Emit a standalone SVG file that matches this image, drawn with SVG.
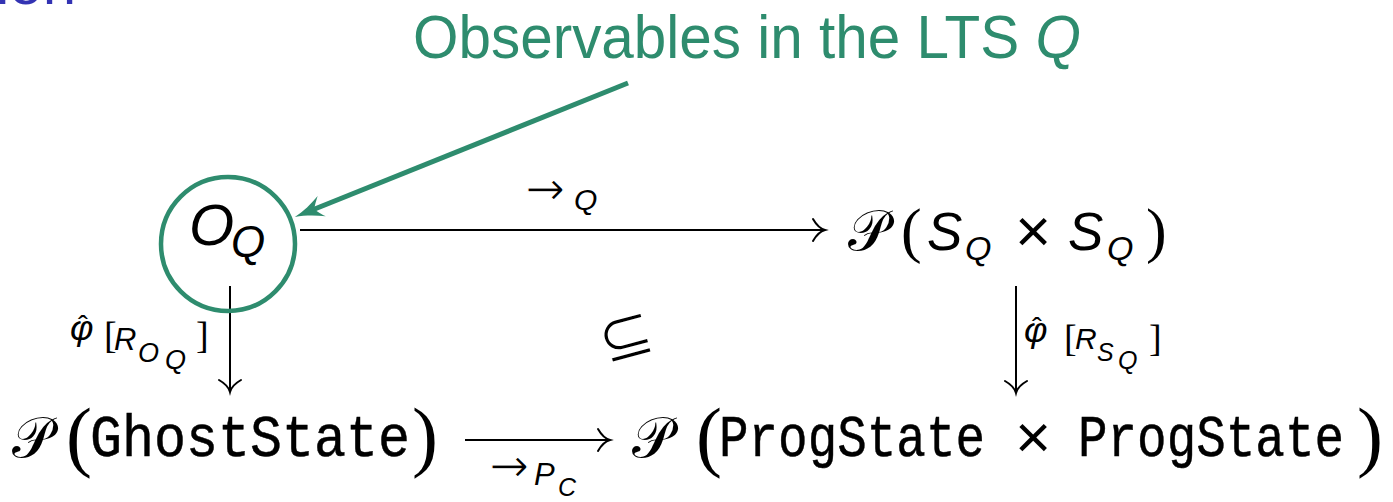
<svg xmlns="http://www.w3.org/2000/svg" width="1393" height="502" viewBox="0 0 1393 502">
<style>
.bg{fill:#ffffff}
.math{font-family:"Liberation Sans","DejaVu Sans",sans-serif;fill:#000}
.it{font-style:italic}
.arr{font-family:"DejaVu Sans",sans-serif;font-style:normal;stroke:#fff;stroke-width:1.3}
.par{font-family:"Liberation Serif","DejaVu Serif",serif;font-style:normal}
.cal{font-family:"DejaVu Serif","DejaVu Sans","Noto Sans",serif;font-style:normal}
.tt{font-family:"Liberation Mono","DejaVu Sans Mono",monospace;fill:#000;stroke:#000;stroke-width:0.5}
.green{fill:#2E8C6E;font-family:"Liberation Sans","DejaVu Sans",sans-serif}
.blue{fill:#3333B3;font-family:"Liberation Sans","DejaVu Sans",sans-serif}
.conn{stroke:#000;stroke-width:2;fill:none}
</style>
<defs>
<marker id="to" markerUnits="userSpaceOnUse" markerWidth="20" markerHeight="26" viewBox="-16 -13 20 26" refX="0" refY="0" orient="auto" overflow="visible">
<path d="M -12 -11 C -8 -4 -3 -0.8 0 0 C -3 0.8 -8 4 -12 11" fill="none" stroke="#000" stroke-width="2" stroke-linecap="round"/>
</marker>
<marker id="stealth" markerUnits="userSpaceOnUse" markerWidth="40" markerHeight="30" viewBox="-20 -15 40 30" refX="0" refY="0" orient="auto" overflow="visible">
<path d="M 12 0 C 2 -2 -8 -6 -17 -11 C -12 -5 -10 -2 -9 0 C -10 2 -12 5 -17 11 C -8 6 2 2 12 0 Z" fill="#2E8C6E"/>
</marker>
</defs>
<rect class="bg" x="0" y="0" width="1393" height="502"/>
<text class="blue" x="-4" y="4" font-size="60">ion</text>
<g id="callout">
<text class="green" x="413" y="58" font-size="62" textLength="668" lengthAdjust="spacingAndGlyphs">Observables in the LTS <tspan font-style="italic">Q</tspan></text>
</g>
<g id="connectors">
<line x1="628" y1="83" x2="306" y2="212.5" stroke="#2E8C6E" stroke-width="5" marker-end="url(#stealth)"/>
<line class="conn" x1="300" y1="230" x2="825" y2="230" marker-end="url(#to)"/>
<line class="conn" x1="230" y1="286" x2="230" y2="392" marker-end="url(#to)"/>
<line class="conn" x1="1016" y1="286" x2="1016" y2="393" marker-end="url(#to)"/>
<line class="conn" x1="465" y1="440" x2="610" y2="440" marker-end="url(#to)"/>
<text class="math"><tspan class="arr" x="525" y="205" font-size="48">→</tspan><tspan class="it" x="574" y="210" font-size="30">Q</tspan></text>
<text class="math"><tspan class="arr" x="489" y="482" font-size="48">→</tspan><tspan class="it" x="534" y="485" font-size="31">P</tspan><tspan class="it" x="558" y="496" font-size="25">C</tspan></text>
<text class="math"><tspan class="it" x="70" y="340" font-size="36">φ</tspan><tspan class="par" x="104" y="348" font-size="38">[</tspan><tspan class="it" x="114" y="350" font-size="31">R</tspan><tspan class="it" x="138" y="362" font-size="27">O</tspan><tspan class="it" x="165" y="369" font-size="27">Q</tspan><tspan class="par" x="196" y="348" font-size="38">]</tspan></text>
<text class="math" x="78" y="336" font-size="30">ˆ</text>
<text class="math"><tspan class="it" x="1024" y="342" font-size="36">φ</tspan><tspan class="par" x="1064" y="351" font-size="38">[</tspan><tspan class="it" x="1075" y="349" font-size="30">R</tspan><tspan class="it" x="1097" y="361" font-size="25">S</tspan><tspan class="it" x="1118" y="369" font-size="25">Q</tspan><tspan class="par" x="1149" y="351" font-size="38">]</tspan></text>
<text class="math" x="1032" y="338" font-size="30">ˆ</text>
</g>
<g id="node-OQ">
<circle cx="228" cy="244" r="67" fill="none" stroke="#2E8C6E" stroke-width="4.5"/>
<text class="math it"><tspan x="189" y="245" font-size="58">O</tspan><tspan x="231" y="257" font-size="44">Q</tspan></text>
</g>
<g id="node-PSS">
<text class="math"><tspan class="cal" x="848" y="250" font-size="56">𝒫</tspan><tspan class="par" x="901" y="251" font-size="62">(</tspan><tspan class="it" x="927" y="250" font-size="53">S</tspan><tspan class="it" x="965" y="260" font-size="34">Q</tspan><tspan x="1015" y="252" font-size="62">×</tspan><tspan class="it" x="1068" y="250" font-size="53">S</tspan><tspan class="it" x="1107" y="260" font-size="34">Q</tspan><tspan class="par" x="1146" y="251" font-size="62">)</tspan></text>
</g>
<g id="node-ghost">
<text class="math"><tspan class="cal" x="12" y="457" font-size="56">𝒫</tspan><tspan class="par" x="66" y="462" font-size="78">(</tspan></text>
<text class="tt" x="90" y="456" font-size="60" textLength="320" lengthAdjust="spacingAndGlyphs">GhostState</text>
<text class="math par" x="412" y="462" font-size="78">)</text>
</g>
<g id="node-prog">
<text class="math"><tspan class="cal" x="632" y="457" font-size="56">𝒫</tspan><tspan class="par" x="696" y="462" font-size="78">(</tspan></text>
<text class="tt" x="719" y="456" font-size="60" textLength="266" lengthAdjust="spacingAndGlyphs">ProgState</text>
<text class="math" x="1015" y="458" font-size="62">×</text>
<text class="tt" x="1078" y="456" font-size="60" textLength="266" lengthAdjust="spacingAndGlyphs">ProgState</text>
<text class="math par" x="1357" y="462" font-size="78">)</text>
</g>
<g id="subset">
<text class="math" x="626" y="358" font-size="66" text-anchor="middle" stroke="#fff" stroke-width="1.6" transform="rotate(-15 626 337)">⊆</text>
</g>
</svg>
